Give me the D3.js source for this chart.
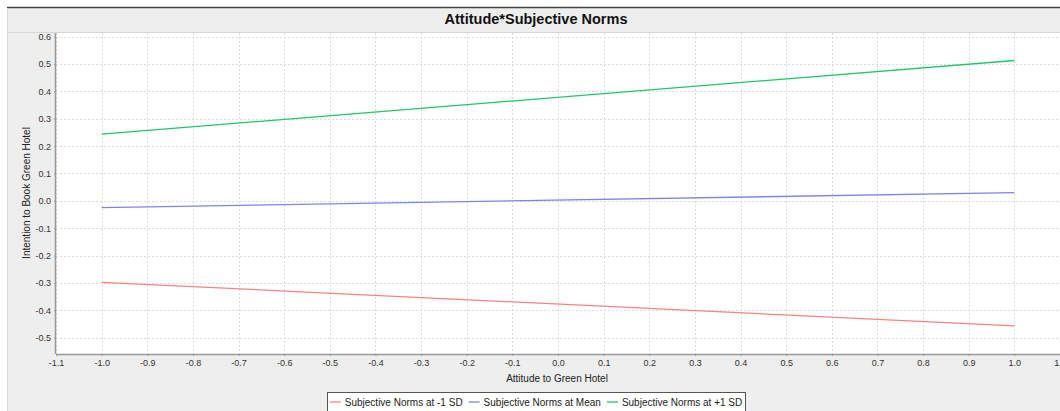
<!DOCTYPE html>
<html>
<head>
<meta charset="utf-8">
<script src="https://cdn.jsdelivr.net/npm/d3@7"></script>
<style>
  body { margin: 0; background: #fff; font-family: "Liberation Sans", Arial, sans-serif; }
  svg { display: block; }
</style>
</head>
<body>
<svg id="chart" width="1060" height="411"></svg>
<script>
// data
var attitude = [-1.0, 1.0];
var seriesNames = ["Subjective Norms at -1 SD", "Subjective Norms at Mean", "Subjective Norms at +1 SD"];
var lowSD = [-0.298, -0.457];
var meanSD = [-0.025, 0.030];
var highSD = [0.244, 0.513];
var seriesColors = ["#ff8080", "#8080ff", "#1dc86a"];
var xTicks = [-1.1, -1.0, -0.9, -0.8, -0.7, -0.6, -0.5, -0.4, -0.3, -0.2, -0.1, 0.0, 0.1, 0.2, 0.3, 0.4, 0.5, 0.6, 0.7, 0.8, 0.9, 1.0, 1.1];
var yTicks = [0.6, 0.5, 0.4, 0.3, 0.2, 0.1, 0.0, -0.1, -0.2, -0.3, -0.4, -0.5];

var W = 1060, H = 411;
var plot = {left: 56, top: 33, right: 1060, bottom: 354};

var svg = d3.select("#chart");

// java style labels use a plain hyphen
function fmt(d) { return d.toFixed(1).replace("−", "-"); }

// panel background
svg.append("rect").attr("x", 7).attr("y", 7).attr("width", W - 7).attr("height", H - 7).attr("fill", "#eeeeee");
svg.append("line").attr("x1", 7).attr("x2", W).attr("y1", 7.5).attr("y2", 7.5).attr("stroke", "#444").attr("stroke-width", 1.5);
svg.append("line").attr("x1", 7.5).attr("x2", 7.5).attr("y1", 8).attr("y2", H).attr("stroke", "#d8d8d8");
svg.append("line").attr("x1", 7).attr("x2", W).attr("y1", 32.5).attr("y2", 32.5).attr("stroke", "#d6d6d6");

// title
svg.append("text")
  .attr("x", 536).attr("y", 24)
  .attr("text-anchor", "middle")
  .style("font-weight", "bold")
  .style("font-size", "14.5px")
  .attr("fill", "#111")
  .text("Attitude*Subjective Norms");

var x = d3.scaleLinear().domain([-1.1, 1.1]).range([plot.left, plot.right]);
var y = d3.scaleLinear().domain([-0.56, 0.6]).range([plot.bottom, 36.7]);

svg.append("rect")
  .attr("x", plot.left).attr("y", plot.top)
  .attr("width", plot.right - plot.left).attr("height", plot.bottom - plot.top)
  .attr("fill", "#fff");

var g = svg.append("g");

// grid
g.selectAll(".vgrid").data(xTicks).enter().append("line")
  .attr("x1", function(d) { return Math.round(x(d)) + 0.5; })
  .attr("x2", function(d) { return Math.round(x(d)) + 0.5; })
  .attr("y1", plot.top).attr("y2", plot.bottom)
  .attr("stroke", "#dcdcdc").attr("stroke-dasharray", "2,2");

g.selectAll(".hgrid").data(yTicks).enter().append("line")
  .attr("x1", plot.left).attr("x2", plot.right)
  .attr("y1", function(d) { return Math.round(y(d)) + 0.5; })
  .attr("y2", function(d) { return Math.round(y(d)) + 0.5; })
  .attr("stroke", "#dcdcdc").attr("stroke-dasharray", "2,2");

// axes
var xAxis = svg.append("g")
  .attr("transform", "translate(0," + plot.bottom + ")")
  .call(d3.axisBottom(x).tickValues(xTicks).tickSize(2).tickPadding(4).tickFormat(fmt));
var yAxis = svg.append("g")
  .attr("transform", "translate(" + plot.left + ",0)")
  .call(d3.axisLeft(y).tickValues(yTicks).tickSize(2).tickPadding(3).tickFormat(fmt));

[xAxis, yAxis].forEach(function(a) {
  a.select(".domain").attr("stroke", "#999").attr("stroke-width", 1.5);
  a.selectAll(".tick line").attr("stroke", "#999");
  a.selectAll(".tick text")
    .style("font-family", "'Liberation Sans', Arial, sans-serif")
    .style("font-size", "9px")
    .attr("fill", "#333");
});
xAxis.select(".domain").attr("d", "M" + plot.left + ",0.5H" + plot.right);
yAxis.select(".domain").attr("d", "M-0.5," + plot.top + "V" + plot.bottom);

// axis labels
svg.append("text")
  .attr("x", 557).attr("y", 382)
  .attr("text-anchor", "middle")
  .style("font-size", "10px")
  .attr("fill", "#222")
  .text("Attitude to Green Hotel");

svg.append("text")
  .attr("transform", "translate(30,193) rotate(-90)")
  .attr("text-anchor", "middle")
  .style("font-size", "10px")
  .attr("fill", "#222")
  .text("Intention to Book Green Hotel");

// lines
var series = [lowSD, meanSD, highSD];
var line = d3.line()
  .x(function(d, i) { return x(attitude[i]); })
  .y(function(d) { return y(d); });

svg.append("g").selectAll("path").data(series).enter().append("path")
  .attr("d", line)
  .attr("fill", "none")
  .attr("stroke", function(d, i) { return seriesColors[i]; })
  .attr("stroke-width", 1.3);

// legend, items laid out by measured text width
var legend = svg.append("g");
var box = legend.append("rect")
  .attr("y", 392.5).attr("height", 20)
  .attr("fill", "#fff").attr("stroke", "#555");

var items = legend.selectAll(".item").data(seriesNames).enter().append("g");
items.append("line")
  .attr("x1", 0).attr("x2", 11).attr("y1", 0).attr("y2", 0)
  .attr("stroke", function(d, i) { return seriesColors[i]; })
  .attr("stroke-width", 1.3);
items.append("text")
  .attr("x", 15).attr("y", 3.5)
  .style("font-size", "10px")
  .attr("fill", "#222")
  .text(function(d) { return d; });

var widths = [];
items.select("text").each(function() { widths.push(this.getComputedTextLength()); });
var gap = 6, pad = 3;
var total = d3.sum(widths) + widths.length * 15 + gap * (widths.length - 1);
var start = 536 - total / 2;
var cx = start;
items.attr("transform", function(d, i) {
  var t = "translate(" + cx + ",402)";
  cx += 15 + widths[i] + gap;
  return t;
});
box.attr("x", Math.round(start - pad) + 0.5).attr("width", Math.round(total + 2 * pad));
</script>
</body>
</html>
